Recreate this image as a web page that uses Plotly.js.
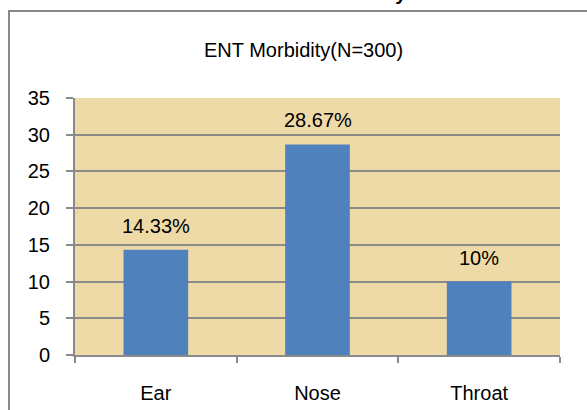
<!DOCTYPE html>
<html>
<head>
<meta charset="utf-8">
<script src="https://cdn.plot.ly/plotly-3.0.1.min.js"></script>
<style>html,body{margin:0;padding:0;background:#fff;}#chart{width:587px;height:410px;}</style>
</head>
<body>
<div id="chart"></div>
<script>
var categories = ["Ear", "Nose", "Throat"];
var values = [14.33, 28.67, 10];
var valueLabels = ["14.33%", "28.67%", "10%"];
var yTicks = [0, 5, 10, 15, 20, 25, 30, 35];
var subtitle = "ENT Morbidity(N=300)";
var topTitle = "Nose and Throat Morbidity";

var W = 587, H = 410;
var M = {l: 75, r: 27, t: 98, b: 55};
var pw = W - M.l - M.r, ph = H - M.t - M.b;
function px(x){ return (x - M.l) / pw; }
function py(y){ return (H - M.b - y) / ph; }

var font = "Liberation Sans, Arial, sans-serif";

var trace = {
  type: "bar",
  x: categories,
  y: values,
  marker: {color: "#4F81BD", line: {width: 0}},
  hoverinfo: "none"
};

var annotations = categories.map(function(c, i){
  return {x: c, y: values[i], xref: "x", yref: "y", text: valueLabels[i],
    showarrow: false, yanchor: "bottom", yshift: 11,
    font: {family: font, size: 20, color: "#000"}};
});
annotations.push({x: px(303), y: py(50), xref: "paper", yref: "paper", text: subtitle,
  showarrow: false, xanchor: "center", yanchor: "middle",
  font: {family: font, size: 20, color: "#000"}});
annotations.push({x: px(280), y: py(6), xref: "paper", yref: "paper", text: "<b>" + topTitle + "</b>",
  showarrow: false, xanchor: "center", yanchor: "bottom",
  font: {family: font, size: 20, color: "#000"}});

var layout = {
  width: W, height: H,
  margin: M,
  paper_bgcolor: "#ffffff",
  plot_bgcolor: "#EEDAA6",
  showlegend: false,
  bargap: 0.6,
  xaxis: {
    type: "category",
    showline: true, linecolor: "#8a8a8a", linewidth: 2,
    ticks: "outside", tickson: "boundaries", ticklen: 6, tickcolor: "#8a8a8a", tickwidth: 2,
    ticklabelstandoff: 19,
    tickfont: {family: font, size: 20, color: "#000"},
    showgrid: false, zeroline: false, fixedrange: true
  },
  yaxis: {
    range: [0, 35],
    tickvals: yTicks,
    showline: true, linecolor: "#8a8a8a", linewidth: 2,
    ticks: "outside", ticklen: 7, tickcolor: "#8a8a8a", tickwidth: 2,
    showgrid: true, gridcolor: "#8a8a8a", gridwidth: 2,
    zeroline: false,
    tickfont: {family: font, size: 20, color: "#000"},
    ticklabelstandoff: 12,
    fixedrange: true
  },
  annotations: annotations,
  shapes: [{
    type: "rect", xref: "paper", yref: "paper",
    x0: px(9), y0: py(11), x1: px(600), y1: py(430),
    line: {color: "#8a8a8a", width: 2}, fillcolor: "rgba(0,0,0,0)", layer: "below"
  }]
};

Plotly.newPlot("chart", [trace], layout, {displayModeBar: false, staticPlot: true});
</script>
</body>
</html>
